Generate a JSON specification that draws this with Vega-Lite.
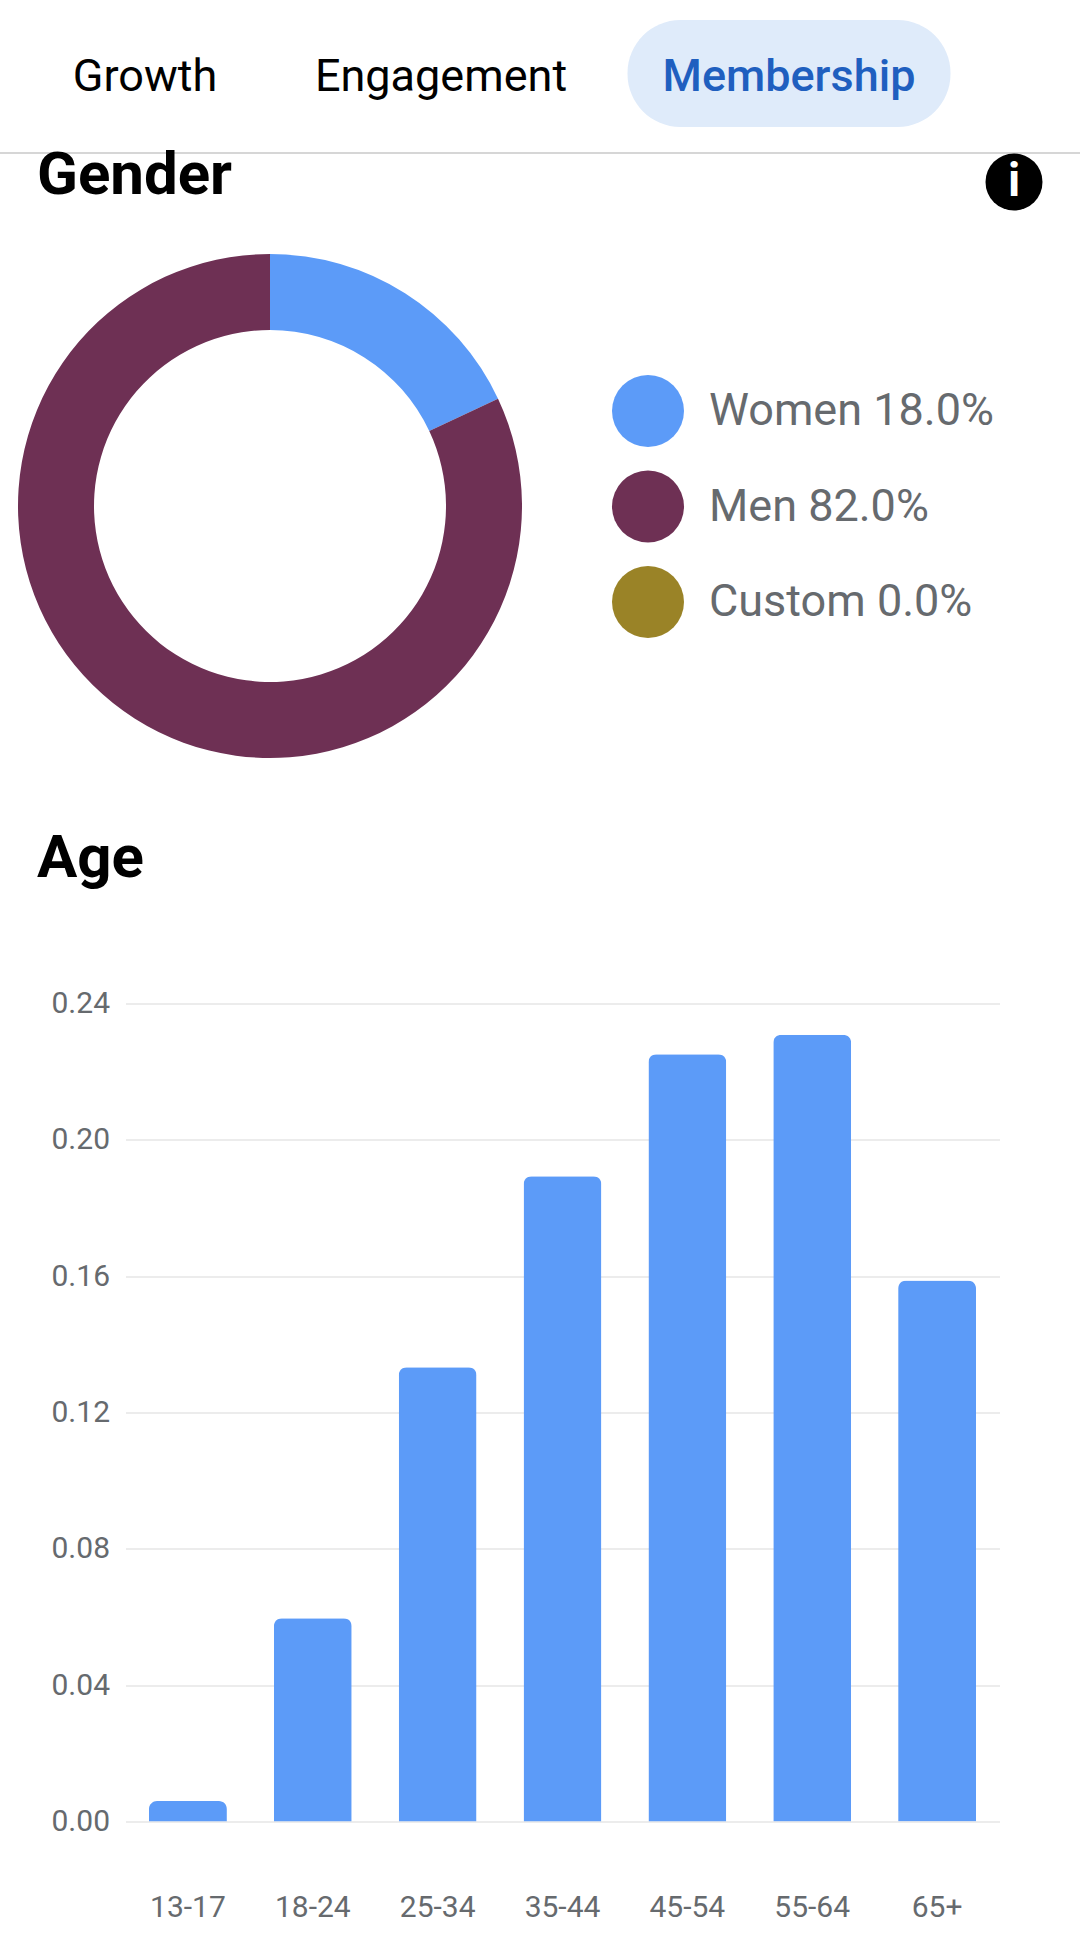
{
  "$schema": "https://vega.github.io/schema/vega-lite/v6.json",
  "background": "white",
  "padding": {"left": -1, "top": 0, "right": 0, "bottom": 0},
  "spacing": 1003.5,
  "bounds": "flush",
  "config": {
    "view": {"stroke": null},
    "font": "Roboto",
    "title": {"font": "Roboto", "fontSize": 60, "fontWeight": 700, "color": "#000000", "anchor": "start", "frame": "group", "baseline": "alphabetic"}
  },
  "vconcat": [
    {
      "spacing": 0,
      "bounds": "flush",
      "vconcat": [
        {
          "width": 1080,
          "height": 153,
          "data": {"values": [
            {"tab": "Growth", "active": false},
            {"tab": "Engagement", "active": false},
            {"tab": "Membership", "active": true}
          ]},
          "encoding": {
            "x": {
              "field": "tab",
              "type": "nominal",
              "axis": null,
              "scale": {"type": "point", "domain": ["Growth", "Engagement", "Membership"], "range": [145, 789], "padding": 0}
            }
          },
          "layer": [
            {
              "transform": [{"filter": "datum.active"}],
              "mark": {"type": "bar", "width": 323, "cornerRadius": 53, "color": "#dfebfa"},
              "encoding": {
                "y": {"datum": 0.17, "type": "quantitative", "scale": {"domain": [0, 1]}, "axis": null},
                "y2": {"datum": 0.87}
              }
            },
            {
              "transform": [{"filter": "!datum.active"}],
              "mark": {"type": "text", "fontSize": 45, "font": "Roboto", "color": "#000000", "xOffset": {"expr": "datum.tab === 'Engagement' ? -26 : 0"}},
              "encoding": {"text": {"field": "tab"}}
            },
            {
              "transform": [{"filter": "datum.active"}],
              "mark": {"type": "text", "fontSize": 45, "font": "Roboto", "fontWeight": 500, "color": "#1f5fbf"},
              "encoding": {"text": {"field": "tab"}}
            },
            {
              "data": {"values": [{"line": "header"}]},
              "mark": {"type": "rule", "color": "#c8c8c8", "strokeWidth": 1.5},
              "encoding": {
                "x": null,
                "y": {"datum": 0, "type": "quantitative", "scale": {"domain": [0, 1]}, "axis": null}
              }
            }
          ]
        },
        {
          "spacing": 445.5,
          "bounds": "flush",
          "hconcat": [
            {
              "width": 540,
              "height": 706,
              "title": {"text": "Gender", "offset": -53.5, "dx": 37},
              "data": {"values": [
                {"rank": 1, "label": "Women 18.0%", "share": 18.0},
                {"rank": 2, "label": "Men 82.0%", "share": 82.0},
                {"rank": 3, "label": "Custom 0.0%", "share": 0.0}
              ]},
              "mark": {"type": "arc", "outerRadius": 252, "innerRadius": 176},
              "encoding": {
                "theta": {"field": "share", "type": "quantitative", "stack": true},
                "order": {"field": "rank"},
                "color": {
                  "field": "label",
                  "type": "nominal",
                  "scale": {
                    "domain": ["Women 18.0%", "Men 82.0%", "Custom 0.0%"],
                    "range": ["#5c9bf8", "#6e3054", "#9a8327"]
                  },
                  "legend": {
                    "title": null,
                    "orient": "none",
                    "legendX": 612,
                    "legendY": 375,
                    "symbolType": "circle",
                    "symbolSize": 5184,
                    "symbolStrokeWidth": 0,
                    "symbolOpacity": 1,
                    "labelFont": "Roboto",
                    "labelFontSize": 45,
                    "labelColor": "#666a6e",
                    "labelOffset": 25,
                    "labelLimit": 400,
                    "rowPadding": 23.5
                  }
                }
              }
            },
            {
              "width": 57,
              "height": 58,
              "data": {"values": [{"icon": "info"}]},
              "layer": [
                {"mark": {"type": "point", "shape": "circle", "filled": true, "size": 3249, "color": "#000000", "opacity": 1}},
                {"mark": {"type": "text", "text": "i", "font": "Roboto", "fontWeight": 700, "fontSize": 46, "color": "#ffffff"}}
              ]
            }
          ]
        }
      ]
    },
    {
      "spacing": 124.5,
      "bounds": "flush",
      "hconcat": [
        {
          "width": 1,
          "height": 1,
          "data": {"values": []},
          "mark": "point",
          "encoding": {}
        },
        {
          "width": 874,
          "height": 818,
          "title": {"text": "Age", "offset": 98.5, "dx": -88.5},
          "data": {"values": [
            {"age": "13-17", "share": 0.006},
            {"age": "18-24", "share": 0.0596},
            {"age": "25-34", "share": 0.1333},
            {"age": "35-44", "share": 0.1893},
            {"age": "45-54", "share": 0.2251},
            {"age": "55-64", "share": 0.2308},
            {"age": "65+", "share": 0.1587}
          ]},
          "mark": {"type": "bar", "color": "#5c9bf8", "cornerRadiusEnd": 8},
          "encoding": {
            "x": {
              "field": "age",
              "type": "nominal",
              "sort": null,
              "scale": {"paddingInner": 0.376, "paddingOuter": 0.188},
              "axis": {
                "title": null,
                "domain": false,
                "ticks": false,
                "labelAngle": 0,
                "labelPadding": 71,
                "labelFont": "Roboto",
                "labelFontSize": 30,
                "labelColor": "#666a6e"
              }
            },
            "y": {
              "field": "share",
              "type": "quantitative",
              "scale": {"domain": [0, 0.24], "nice": false},
              "axis": {
                "title": null,
                "domain": false,
                "ticks": false,
                "values": [0, 0.04, 0.08, 0.12, 0.16, 0.2, 0.24],
                "format": ".2f",
                "grid": true,
                "gridColor": "#e6e6e6",
                "gridWidth": 1.5,
                "labelPadding": 16,
                "labelFont": "Roboto",
                "labelFontSize": 30,
                "labelColor": "#666a6e"
              }
            }
          }
        }
      ]
    }
  ]
}
